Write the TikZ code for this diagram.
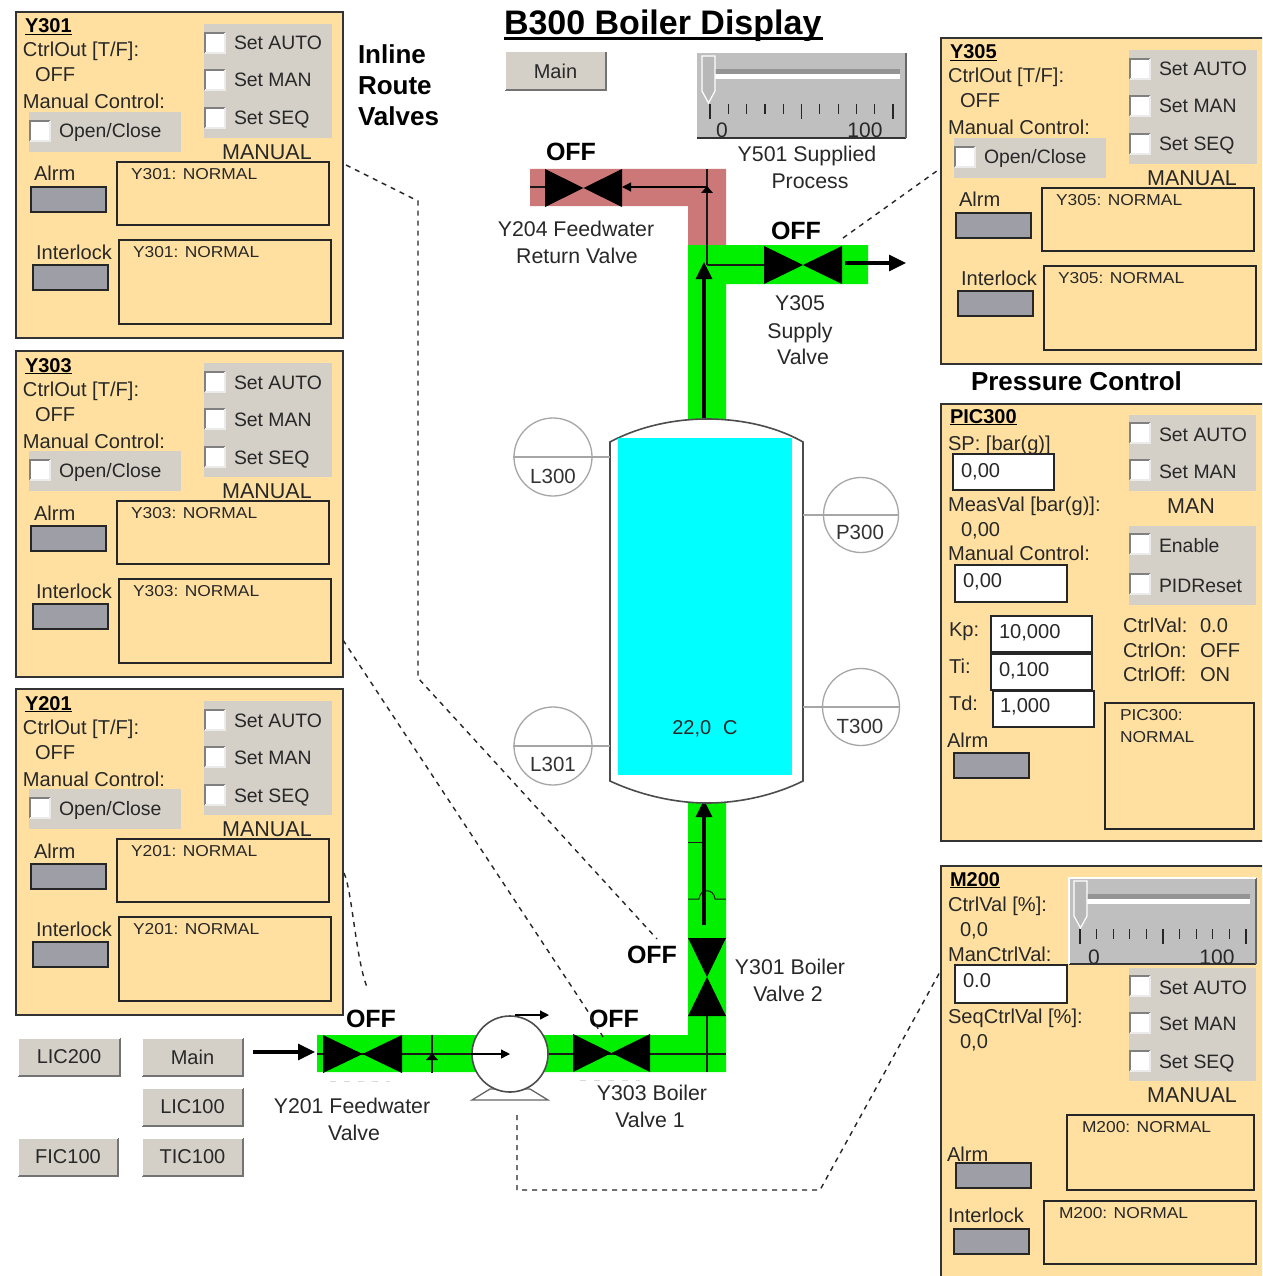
\documentclass[tikz,border=0pt]{standalone}
\usepackage{fontspec}
\setmainfont{Liberation Sans}
\newfontfamily\widefont[FakeStretch=1.1]{Liberation Sans}
\usetikzlibrary{arrows.meta}
\definecolor{panelc}{RGB}{255,224,160}
\definecolor{grayc}{RGB}{212,208,200}
\definecolor{indic}{RGB}{158,158,166}
\definecolor{pipeg}{RGB}{0,240,0}
\definecolor{piper}{RGB}{205,120,120}
\definecolor{tank}{RGB}{0,255,255}
\definecolor{inkc}{RGB}{40,40,40}
\newcount\nid
\tikzset{
 x=1pt,y=-1pt,
 basetxt/.style={inner sep=0pt,outer sep=0pt,text=inkc},
 lbl/.style={basetxt,anchor=base west,yshift=-7pt,font=\fontsize{20.1}{24}\selectfont},
 chklbl/.style={basetxt,anchor=base west,yshift=-7pt,font=\fontsize{19.4}{24}\selectfont},
 ttl/.style={basetxt,anchor=base west,yshift=-7pt,text=black,font=\bfseries\fontsize{20}{24}\selectfont},
 msg/.style={basetxt,anchor=base west,yshift=-5.5pt,font=\widefont\fontsize{15.8}{20}\selectfont},
 midtxt/.style={basetxt,anchor=base,yshift=-7.5pt,font=\fontsize{21.5}{24}\selectfont},
 captxt/.style={basetxt,anchor=base,yshift=-8pt,font=\fontsize{21.3}{26}\selectfont},
 offtxt/.style={basetxt,anchor=base,yshift=-9pt,text=black,font=\bfseries\fontsize{25}{28}\selectfont},
 headtxt/.style={basetxt,anchor=base west,yshift=-9pt,text=black,font=\bfseries\fontsize{26}{30}\selectfont},
 panelbox/.style={draw=black!80,line width=1.5pt,fill=panelc},
 msgbox/.style={draw=black!85,line width=1.5pt,fill=panelc},
 indbox/.style={draw=black!85,line width=1.5pt,fill=indic},
 entrybox/.style={draw=black!85,line width=1.5pt,fill=white},
 dashc/.style={draw=black!85,line width=1.4pt,dash pattern=on 5pt off 5pt},
 inst/.style={draw=black!35,line width=1.3pt},
 thinp/.style={draw=black!90,line width=1.2pt},
 flowb/.style={draw=black,line width=3.2pt,-{Triangle[length=17pt,width=16pt]}},
 flows/.style={draw=black,line width=1.3pt,-{Triangle[length=9pt,width=9pt]}},
}
\newcommand\putn[4]{\global\advance\nid by 1\relax\node[#1] (n\the\nid) at (#2,#3) {#4};}
\newcommand\chk[2]{%
 \fill[white] (#1,#2) rectangle ++(20,20);
 \draw[black!50,line width=1.6pt] (#1,#2) ++(0,20) -- ++(0,-20) -- ++(20,0);
 \draw[black!8,line width=1.4pt] (#1,#2) ++(20,0) -- ++(0,20) -- ++(-20,0);}
\newcommand\graybox[4]{\fill[grayc] (#1,#2) rectangle (#3,#4);}
\newcommand\valvepanel[3]{%
\begin{scope}[shift={(#1,#2)}]
 \draw[panelbox] (16,12) rectangle (343,338);
 \putn{ttl}{25}{26}{\underline{#3}}
 \putn{lbl}{23}{50}{CtrlOut [T/F]:}
 \putn{lbl}{35}{75}{OFF}
 \putn{lbl}{23}{102}{Manual Control:}
 \graybox{29}{112}{181}{152}
 \chk{30}{121}
 \putn{chklbl}{59}{131}{Open/Close}
 \graybox{204}{24}{332}{138}
 \chk{205}{33}\chk{205}{70}\chk{205}{108}
 \putn{chklbl}{234}{43}{Set AUTO}
 \putn{chklbl}{234}{80}{Set MAN}
 \putn{chklbl}{234}{118}{Set SEQ}
 \putn{midtxt}{267}{152}{MANUAL}
 \putn{lbl}{34}{174}{Alrm}
 \draw[indbox] (31,187) rectangle (106,212);
 \draw[msgbox] (117,162) rectangle (329,225);
 \putn{msg}{131}{174}{#3: NORMAL}
 \putn{lbl}{36}{252}{Interlock}
 \draw[indbox] (33,265) rectangle (108,290);
 \draw[msgbox] (119,240) rectangle (331,324);
 \putn{msg}{133}{252}{#3: NORMAL}
\end{scope}}
\newcommand\button[5]{%
 \fill[grayc] (#1,#2) rectangle (#3,#4);
 \draw[black!55,line width=1.5pt] (#1,#4) -- (#3,#4) -- (#3,#2);
 \draw[white,line width=1pt] (#1,#4) -- (#1,#2) -- (#3,#2);
 \pgfmathsetmacro\bcx{0.5*#1+0.5*#3}
 \pgfmathsetmacro\bcy{0.5*#2+0.5*#4}
 \putn{basetxt,anchor=center,font=\fontsize{20}{24}\selectfont}{\bcx}{\bcy}{#5}}
% left top right bottom tick0 tickstep lab0 lab100
\newcommand\slider[8]{%
 \fill[black!25] (#1,#2) rectangle (#3,#4);
 \draw[black!80,line width=1.4pt] (#1,#4) -- (#3,#4);
 \draw[black!60,line width=1.2pt] (#3,#4) -- (#3,#2);
 \fill[black!42] (#1+15,#2+16) rectangle (#3-6,#2+21);
 \fill[white] (#1+15,#2+21) rectangle (#3-6,#2+26);
 \fill[black!28,draw=white,line width=1.2pt] (#1+5,#2+3) -- (#1+18,#2+3) -- (#1+18,#2+38) -- (#1+11.5,#2+50) -- (#1+5,#2+38) -- cycle;
 \foreach \i in {0,...,10}{
  \pgfmathsetmacro\tx{#5+\i*#6}
  \pgfmathsetmacro\tl{(\i==0||\i==5||\i==10)?15:10}
  \draw[black!85,line width=1.2pt] (\tx,#2+51) -- ++(0,\tl);}
 \putn{basetxt,anchor=base,font=\fontsize{21}{24}\selectfont}{#7}{#4}{0}
 \putn{basetxt,anchor=base,font=\fontsize{21}{24}\selectfont}{#8}{#4}{100}}
\newcommand\bowh[3]{% centre x, centre y, half-size
 \fill[black] (#1-#3,#2-19) -- (#1,#2) -- (#1-#3,#2+19) -- cycle;
 \fill[black] (#1+#3,#2-19) -- (#1,#2) -- (#1+#3,#2+19) -- cycle;}
\newcommand\bowv[2]{%
 \fill[black] (#1-19,#2-39) -- (#1,#2) -- (#1+19,#2-39) -- cycle;
 \fill[black] (#1-19,#2+39) -- (#1,#2) -- (#1+19,#2+39) -- cycle;}
\begin{document}
\begin{tikzpicture}
\useasboundingbox (0,0) rectangle (1262,1276);
\clip (0,0) rectangle (1262,1276);
\fill[white] (0,0) rectangle (1262,1276);

% pipes
\fill[piper] (530,169) -- (726,169) -- (726,245) -- (688,245) -- (688,206) -- (530,206) -- cycle;
\fill[pipeg] (688,245) -- (868,245) -- (868,284) -- (726,284) -- (726,420) -- (688,420) -- cycle;
\fill[pipeg] (688,800) -- (726,800) -- (726,1072) -- (317,1072) -- (317,1035) -- (688,1035) -- cycle;

% thin pipe lines and flow arrows
\coordinate (ra) at (707,187); \coordinate (rb) at (622,187);
\coordinate (rc) at (707,169); \coordinate (rd) at (707,265);
\coordinate (re) at (530,187); \coordinate (rf) at (545,187);
\coordinate (ga) at (704,418); \coordinate (gb) at (704,262);
\coordinate (gc) at (707,265); \coordinate (gd) at (764,265);
\coordinate (ge) at (845,263); \coordinate (gf) at (906,263);
\coordinate (ba) at (704,925); \coordinate (bb) at (704,800);
\coordinate (ia) at (253,1052); \coordinate (ib) at (315,1052);
\coordinate (la) at (317,1054); \coordinate (lb) at (726,1054);
\coordinate (va) at (707,1015); \coordinate (vb) at (707,1072);
\coordinate (ta) at (432,1035); \coordinate (tb) at (432,1073);
\coordinate (ka) at (688,842); \coordinate (kb) at (705,842);
\draw[flows] (ra) -- (rb);
\draw[thinp] (rc) -- (rd);
\draw[thinp] (re) -- (rf);
\fill[black] (701,193) -- (707,186) -- (713,193) -- cycle;
\draw[thinp] (gc) -- (gd);
\draw[flowb] (ga) -- (gb);
\draw[flowb] (ge) -- (gf);
\draw[thinp] (la) -- (lb);
\draw[thinp] (va) -- (vb);
\draw[thinp] (ta) -- (tb);
\fill[black] (426,1060) -- (432,1053) -- (438,1060) -- cycle;
\draw[thinp,line width=1pt] (ka) -- (kb);
\draw[thinp,line width=1pt] (688,899) -- (699,899) .. controls (700,888) and (714,888) .. (715,899) -- (726,899);
\draw[flowb] (ba) -- (bb);
\draw[flowb] (ia) -- (ib);

% valves
\bowh{583.5}{188}{38.5}
\bowh{803}{265}{39}
\bowh{362.5}{1054}{39.5}
\bowh{611.5}{1053}{38.5}
\bowv{707}{977}
\draw[black!15,line width=1pt,dash pattern=on 6pt off 8pt] (330,1081) -- (390,1081);
\draw[black!15,line width=1pt,dash pattern=on 6pt off 8pt] (580,1080) -- (640,1080);

% pump
\draw[draw=black!60,line width=1.3pt,fill=white] (472,1100) -- (548,1100) -- (530,1089) -- (490,1089) -- cycle;
\node[circle,draw=black!70,fill=white,line width=1.6pt,minimum size=76pt,inner sep=0pt] (pump) at (510,1054) {};
\coordinate (pa) at (pump.west); \coordinate (pb) at (510,1054);
\coordinate (pc) at (515,1015); \coordinate (pd) at (549,1015);
\draw[flows] (pa) -- (pb);
\draw[flows] (pc) -- (pd);

% vessel
\draw[draw=black!70,line width=1.6pt,fill=white] (610,442) .. controls (640,426) and (675,419) .. (707,419) .. controls (740,419) and (775,426) .. (803,442) -- (803,781) .. controls (775,795) and (740,803) .. (707,803) .. controls (675,803) and (640,795) .. (610,781) -- cycle;
\fill[tank] (618,438) rectangle (792,775);
\node[basetxt,anchor=base,font=\fontsize{20}{24}\selectfont] (tempv) at (705,734) {22,0\hspace{0.6em}C};

% instruments
\node[circle,inst,minimum size=78pt,inner sep=0pt] (l300) at (553,457) {};
\node[circle,inst,minimum size=78pt,inner sep=0pt] (l301) at (553,746) {};
\node[circle,inst,minimum size=75pt,inner sep=0pt] (p300) at (861,515) {};
\node[circle,inst,minimum size=77pt,inner sep=0pt] (t300) at (861,707) {};
\coordinate (v1) at (610,457); \coordinate (v2) at (610,746);
\coordinate (v3) at (803,515); \coordinate (v4) at (803,707);
\draw[inst] (l300.west) -- (v1);
\draw[inst] (l301.west) -- (v2);
\draw[inst] (p300.east) -- (v3);
\draw[inst] (t300.east) -- (v4);
\node[basetxt,anchor=center,font=\fontsize{20.5}{24}\selectfont,text=black!80] (tl300) at (553,476) {L300};
\node[basetxt,anchor=center,font=\fontsize{20.5}{24}\selectfont,text=black!80] (tl301) at (553,764) {L301};
\node[basetxt,anchor=center,font=\fontsize{20.5}{24}\selectfont,text=black!80] (tp300) at (860,532) {P300};
\node[basetxt,anchor=center,font=\fontsize{20.5}{24}\selectfont,text=black!80] (tt300) at (860,726) {T300};

% title
\node[basetxt,anchor=base west,text=black,font=\bfseries\fontsize{34}{38}\selectfont] (title) at (504,35) {B300 Boiler Display};
\coordinate (ula) at (504,39); \coordinate (ulb) at (823,39);
\draw[black,line width=3pt] (ula) -- (ulb);
\button{505}{52}{606}{90}{Main}

% slider Y501
\slider{697}{53}{906}{138}{710}{18.3}{722}{865}

% heading labels
\putn{headtxt}{358}{55}{Inline}
\putn{headtxt}{358}{86}{Route}
\putn{headtxt}{358}{117}{Valves}
\putn{headtxt}{971}{381}{Pressure Control}

% captions
\putn{captxt}{807}{154}{Y501 Supplied}
\putn{captxt}{810}{181}{Process}
\putn{captxt}{576}{228}{Y204 Feedwater}
\putn{captxt}{577}{255}{Return Valve}
\putn{captxt}{800}{302}{Y305}
\putn{captxt}{800}{330}{Supply}
\putn{captxt}{803}{356}{Valve}
\putn{captxt}{790}{966}{Y301 Boiler}
\putn{captxt}{788}{993}{Valve 2}
\putn{captxt}{352}{1105}{Y201 Feedwater}
\putn{captxt}{354}{1132}{Valve}
\putn{captxt}{652}{1092}{Y303 Boiler}
\putn{captxt}{650}{1119}{Valve 1}
\putn{offtxt}{571}{152}{OFF}
\putn{offtxt}{796}{230}{OFF}
\putn{offtxt}{371}{1018}{OFF}
\putn{offtxt}{614}{1018}{OFF}
\putn{offtxt}{652}{954}{OFF}

% panels
\valvepanel{0}{0}{Y301}
\valvepanel{0}{339}{Y303}
\valvepanel{0}{677}{Y201}
\valvepanel{925}{26}{Y305}

% PIC300
\draw[panelbox] (941,404) rectangle (1275,841);
\putn{ttl}{950}{416}{\underline{PIC300}}
\putn{lbl}{948}{443}{SP: [bar(g)]}
\draw[entrybox] (953,454) rectangle (1054,490);
\putn{lbl}{961}{470}{0,00}
\putn{lbl}{948}{504}{MeasVal [bar(g)]:}
\putn{lbl}{961}{529}{0,00}
\putn{lbl}{948}{553}{Manual Control:}
\draw[entrybox] (955,565) rectangle (1067,602);
\putn{lbl}{963}{580}{0,00}
\graybox{1129}{415}{1256}{491}
\chk{1130}{423}\chk{1130}{460}
\putn{chklbl}{1159}{434}{Set AUTO}
\putn{chklbl}{1159}{471}{Set MAN}
\putn{midtxt}{1191}{506}{MAN}
\graybox{1129}{526}{1256}{605}
\chk{1130}{534}\chk{1130}{574}
\putn{chklbl}{1159}{545}{Enable}
\putn{chklbl}{1159}{585}{PIDReset}
\putn{lbl}{949}{629}{Kp:}
\draw[entrybox] (991,616) rectangle (1092,652);
\putn{lbl}{999}{631}{10,000}
\putn{lbl}{949}{666}{Ti:}
\draw[entrybox] (991,654) rectangle (1092,690);
\putn{lbl}{999}{669}{0,100}
\putn{lbl}{949}{703}{Td:}
\draw[entrybox] (993,691) rectangle (1094,727);
\putn{lbl}{1000}{705}{1,000}
\putn{lbl}{1123}{625}{CtrlVal:}
\putn{lbl}{1200}{625}{0.0}
\putn{lbl}{1123}{650}{CtrlOn:}
\putn{lbl}{1200}{650}{OFF}
\putn{lbl}{1123}{674}{CtrlOff:}
\putn{lbl}{1200}{674}{ON}
\putn{lbl}{947}{740}{Alrm}
\draw[indbox] (954,753) rectangle (1029,778);
\draw[msgbox] (1105,703) rectangle (1254,829);
\putn{msg}{1120}{715}{PIC300:}
\putn{msg}{1120}{737}{NORMAL}

% M200
\draw[panelbox] (941,866) rectangle (1275,1290);
\putn{ttl}{950}{879}{\underline{M200}}
\putn{lbl}{948}{904}{CtrlVal [\%]:}
\putn{lbl}{960}{929}{0,0}
\putn{lbl}{948}{954}{ManCtrlVal:}
\draw[entrybox] (955,965) rectangle (1067,1003);
\putn{lbl}{963}{980}{0.0}
\putn{lbl}{948}{1016}{SeqCtrlVal [\%]:}
\putn{lbl}{960}{1041}{0,0}
\slider{1069}{878}{1256}{964}{1080}{16.6}{1094}{1217}
\draw[white,line width=1.4pt] (1069,964) -- (1069,878) -- (1256,878);
\graybox{1129}{968}{1256}{1081}
\chk{1130}{976}\chk{1130}{1013}\chk{1130}{1051}
\putn{chklbl}{1159}{987}{Set AUTO}
\putn{chklbl}{1159}{1023}{Set MAN}
\putn{chklbl}{1159}{1061}{Set SEQ}
\putn{midtxt}{1192}{1095}{MANUAL}
\draw[msgbox] (1067,1115) rectangle (1254,1190);
\putn{msg}{1082}{1127}{M200: NORMAL}
\putn{lbl}{947}{1154}{Alrm}
\draw[indbox] (956,1163) rectangle (1031,1188);
\putn{lbl}{948}{1215}{Interlock}
\draw[indbox] (954,1229) rectangle (1029,1254);
\draw[msgbox] (1044,1201) rectangle (1256,1264);
\putn{msg}{1059}{1213}{M200: NORMAL}
\button{18}{1038}{120}{1076}{LIC200}
\button{142}{1038}{243}{1076}{Main}
\button{142}{1088}{243}{1126}{LIC100}
\button{18}{1138}{118}{1176}{FIC100}
\button{142}{1138}{243}{1176}{TIC100}

% dashed connectors
\coordinate (d1a) at (346,165); \coordinate (d1b) at (418,201);
\coordinate (d1c) at (418,678); \coordinate (d1d) at (657,939);
\draw[dashc] (d1a) -- (d1b) -- (d1c) -- (d1d);
\coordinate (d2a) at (343,640); \coordinate (d2b) at (587,1010); \coordinate (d2c) at (603,1037);
\draw[dashc] (d2a) -- (d2b) -- (d2c);
\coordinate (d3a) at (344,873); \coordinate (d3b) at (367,987);
\draw[dashc] (d3a) .. controls (352,890) and (356,960) .. (d3b);
\coordinate (d4a) at (843,238); \coordinate (d4b) at (941,168);
\draw[dashc] (d4a) -- (d4b);
\coordinate (d5a) at (517,1115); \coordinate (d5b) at (517,1190);
\coordinate (d5c) at (820,1190); \coordinate (d5d) at (941,970);
\draw[dashc] (d5a) -- (d5b) -- (d5c) -- (d5d);
\end{tikzpicture}
\end{document}
